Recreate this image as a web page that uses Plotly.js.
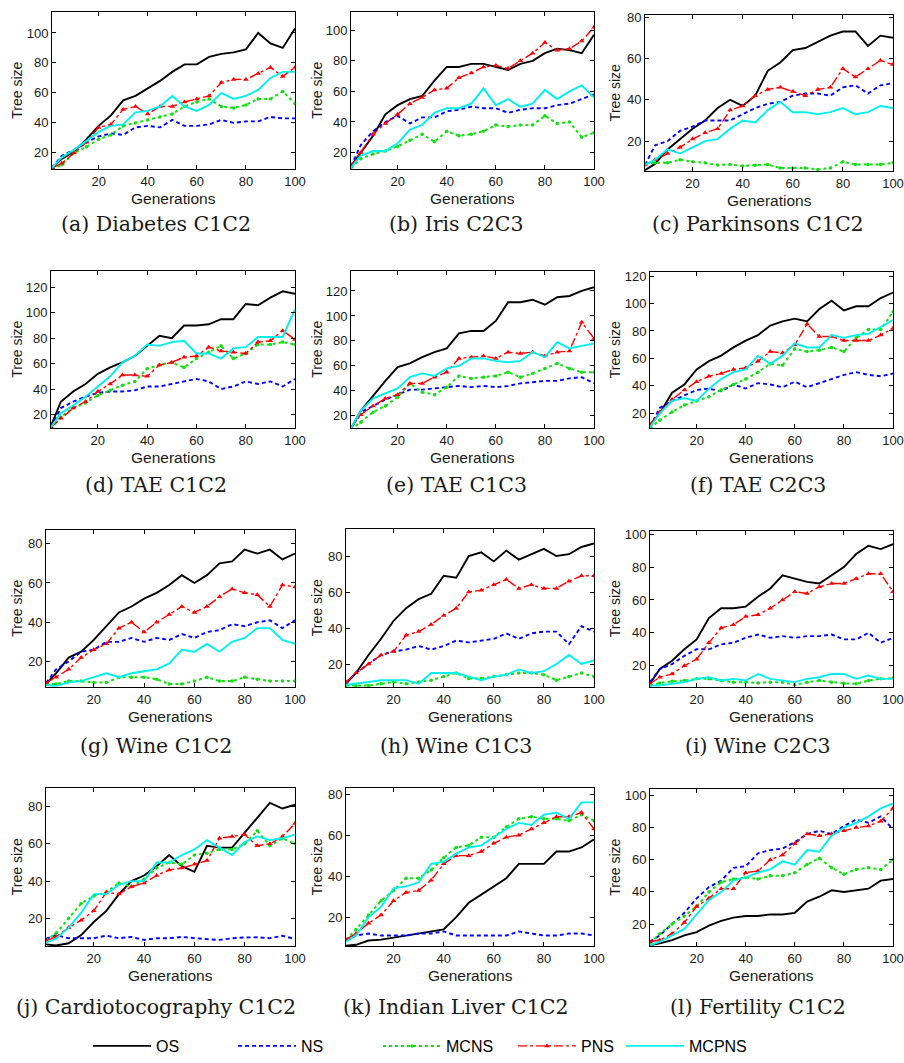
<!DOCTYPE html>
<html><head><meta charset="utf-8">
<script src="https://cdn.plot.ly/plotly-3.0.1.min.js"></script>
<style>html,body{margin:0;padding:0;background:#fff}#chart{width:904px;height:1063px}</style>
</head><body><div id="chart"></div>
<script>
// ---------------- DATA ----------------
const GEN = [1,5,10,15,20,25,30,35,40,45,50,55,60,65,70,75,80,85,90,95,100];
const SERIES = ['OS','NS','MCNS','PNS','MCPNS'];
const CAPTIONS = ['(a) Diabetes C1C2','(b) Iris C2C3','(c) Parkinsons C1C2',
  '(d) TAE C1C2','(e) TAE C1C3','(f) TAE C2C3',
  '(g) Wine C1C2','(h) Wine C1C3','(i) Wine C2C3',
  '(j) Cardiotocography C1C2','(k) Indian Liver C1C2','(l) Fertility C1C2'];
const X_TITLE = 'Generations';
const Y_TITLE = 'Tree size';
const X_TICKS = [20,40,60,80,100];
const Y_TICKS_A = [20,40,60,80,100];
const Y_TICKS_B = [20,40,60,80];
const Y_TICKS_C = [20,40,60,80,100,120];

// (a) Diabetes C1C2
const diabetes_OS    = [10,16,21,29,38,45,55,58,63,68,74,79,79,84,86,87,89,100,93,90,103];
const diabetes_NS    = [10,18,22,27,31,33,32,37,38,37,42,38,38,39,42,40,41,41,44,43,43];
const diabetes_MCNS  = [9,12,20,24,29,32,38,40,42,44,46,51,54,56,51,50,52,56,56,61,53];
const diabetes_PNS   = [10,13,20,27,37,39,49,51,46,51,51,54,56,58,67,69,69,73,77,71,77];
const diabetes_MCPNS = [10,17,22,28,34,38,39,47,48,51,58,51,48,52,60,56,58,62,70,74,74];
// (b) Iris C2C3
const iris_OS    = [11,20,31,45,51,55,57,67,76,76,78,78,76,74,78,80,85,88,87,85,97];
const iris_NS    = [11,25,34,40,44,39,43,43,47,48,50,49,49,46,48,49,49,51,52,55,58];
const iris_MCNS  = [10,16,19,21,24,28,32,27,34,31,32,34,38,37,38,38,44,39,40,30,33];
const iris_PNS   = [11,20,32,39,45,52,56,61,62,69,72,76,77,75,80,85,92,87,88,93,102];
const iris_MCPNS = [10,18,21,21,26,35,38,46,49,49,52,62,51,55,50,52,61,55,60,64,56];
// (c) Parkinsons C1C2
const park_OS    = [6,9,16,21,26,30,36,40,37,42,54,58,64,65,68,71,73,73,66,71,70];
const park_NS    = [8.5,18,20,25,27,30,30,30,33,36,38,39,42,43,43,42,46,47,43,47,48];
const park_MCNS  = [9,9.5,9.5,11,10,9.5,8.5,8.7,8,8.4,8.7,7,7,7,6.3,7,10,8.7,8.7,8.7,9.5];
const park_PNS   = [8.5,11,14,17,21,24,26,35,37,42,45,46,44,42,45,46,55,51,55,59,57];
const park_MCPNS = [8.5,11,16,14,17,20,21,26,30,29,35,39,34,34,33,34,36,33,34,37,36];
// (d) TAE C1C2
const taeA_OS    = [11,30,38,44,52,57,61,66,74,82,80,90,90,91,95,95,107,106,112,117,115];
const taeA_NS    = [10,25,30,34,37,38,38,39,42,42,44,46,48,46,40,42,46,44,46,42,48];
const taeA_MCNS  = [9,18,25,29,35,39,43,46,56,59,61,57,64,69,74,64,68,75,75,77,75];
const taeA_PNS   = [10,17,25,30,38,44,51,51,50,59,61,65,66,73,70,69,68,77,78,86,79];
const taeA_MCPNS = [10,21,27,34,42,50,61,66,75,74,77,78,68,68,64,72,73,81,81,81,103];
// (e) TAE C1C3
const taeB_OS    = [10,24,36,48,59,62,67,71,74,86,88,88,96,111,111,113,109,115,116,120,123];
const taeB_NS    = [10,23,28,33,37,41,41,42,43,44,43,44,43,44,46,47,48,48,50,51,46];
const taeB_MCNS  = [9,15,23,28,35,46,39,37,43,52,50,51,52,55,51,54,58,62,58,55,55];
const taeB_PNS   = [10,21,28,34,37,46,46,51,55,66,67,68,66,71,70,71,68,71,72,95,82];
const taeB_MCPNS = [10,24,34,38,42,51,54,52,58,60,66,66,64,63,64,71,67,79,74,76,78];
// (f) TAE C2C3
const taeC_OS    = [11,20,35,41,52,58,62,68,73,77,84,87,89,87,96,102,95,98,98,104,108];
const taeC_NS    = [10,24,29,33,37,38,36,41,38,42,41,39,43,39,42,45,48,50,48,47,49];
const taeC_MCNS  = [9,15,21,26,29,32,37,41,45,50,56,55,67,65,66,68,65,75,81,81,94];
const taeC_PNS   = [12,21,30,37,43,47,49,52,53,58,65,64,70,85,76,76,73,73,73,77,82];
const taeC_MCPNS = [10,20,29,31,29,38,45,50,52,62,56,62,71,68,68,77,75,77,78,83,88];
// (g) Wine C1C2
const wineA_OS    = [8.5,14,22,25,31,38,45,48,52,55,59,64,60,64,70,71,77,75,77,72,75];
const wineA_NS    = [9,16,20,25,26,30,30,32,30,32,31,34,32,35,36,39,38,40,41,37,41];
const wineA_MCNS  = [8.5,8.5,10,10,9.3,9.3,12,12,12,11,8.5,8.5,10,12,10,10,12,11,10,10,10];
const wineA_PNS   = [9,12,16,22,26,29,37,40,35,40,44,48,45,48,53,57,55,54,48,59,58];
const wineA_MCPNS = [8,7.6,9.3,10,12,14,12,14,15,16,19,26,25,29,25,30,32,37,37,31,29];
// (h) Wine C1C3
const wineB_OS    = [9,15,25,34,44,51,56,59,69,68,80,82,77,83,78,81,84,80,81,85,87];
const wineB_NS    = [9.5,15,20,25,27,28,30,28,30,33,32,33,34,37,34,37,38,38,31,41,38];
const wineB_MCNS  = [8,8,8,9,10,9,10,11,13,15,12,12,13,14,15,15,14,11,13,15,13];
const wineB_PNS   = [10,15,20,25,27,36,38,42,47,51,60,61,64,67,62,64,62,62,66,69,69];
const wineB_MCPNS = [8.5,9,10,11,11,11,9,15,15,15,13,11,13,14,17,15,16,20,25,20,22];
// (i) Wine C2C3
const wineC_OS    = [9,18,23,30,36,49,55,55,56,62,67,75,73,71,70,75,80,88,93,91,94];
const wineC_NS    = [10,18,21,26,30,30,33,34,37,39,37,38,37,38,38,39,36,36,40,34,37];
const wineC_MCNS  = [8,9.5,10.5,11,12,12,11,10,10,9.5,10,10,8.3,10,11,10,9.3,9,11,12,12.5];
const wineC_PNS   = [9,13,15,20,24,34,43,45,50,51,55,60,65,64,68,70,70,73,76,76,65];
const wineC_MCPNS = [8,8,9,10,12,13,11,12,11,15,12,11,10,12,13,15,15,12,14,12,12];
// (j) Cardiotocography C1C2
const cardio_OS    = [6,5.4,6.6,11,18,24,33,40,43,48,54,48,45,59,58,58,66,74,82,79,81];
const cardio_NS    = [9,11,9.3,9.3,9.3,10.7,9.3,10,8.4,9.3,9.3,10,9.3,8.8,8.4,9.3,9.7,9.8,9.3,10.6,8.9];
const cardio_MCNS  = [8,12,20,28,32,34,39,37,41,47,50,49,54,55,57,57,60,67,59,63,60];
const cardio_PNS   = [8,10,15,19,24,34,33,37,39,43,46,47,49,51,63,64,65,59,60,64,71];
const cardio_MCPNS = [7,9,15,23,33,33,38,40,40,50,50,54,57,62,58,54,61,64,62,63,65];
// (k) Indian Liver C1C2
const liver_OS    = [6,6.5,8.6,9,10,11,12,13,14,20,27,31,35,39,46,46,46,52,52,54,58];
const liver_NS    = [9,11,12,11,11,11,12,12,13,11,11,11,11,11,13,12,11,11,12,12,11];
const liver_MCNS  = [9,14,21,28,33,39,39,43,49,54,55,59,59,64,68,69,68,68,67,70,67];
const liver_PNS   = [9,12,17,21,28,32,33,38,46,50,50,52,56,59,60,63,66,69,69,71,63];
const liver_MCPNS = [8,11,20,25,34,35,37,46,47,51,54,55,59,63,66,65,70,71,68,76,76];
// (l) Fertility C1C2
const fert_OS    = [7,8,10,13,15,19,22,24,25,25,26,26,27,34,37,41,40,41,42,47,48];
const fert_NS    = [9,13,20,27,36,43,47,55,56,64,66,67,71,76,78,76,81,85,83,87,79];
const fert_MCNS  = [8,14,20,25,31,40,46,48,49,48,50,50,52,57,61,55,51,54,55,54,60];
const fert_PNS   = [9,10,14,21,31,36,42,42,52,53,60,63,70,76,75,76,78,80,81,84,92];
const fert_MCPNS = [7,9,13,17,26,35,40,47,49,52,54,59,57,66,65,75,80,83,87,92,95];

const PANEL_DATA = [
  [diabetes_OS,diabetes_NS,diabetes_MCNS,diabetes_PNS,diabetes_MCPNS],
  [iris_OS,iris_NS,iris_MCNS,iris_PNS,iris_MCPNS],
  [park_OS,park_NS,park_MCNS,park_PNS,park_MCPNS],
  [taeA_OS,taeA_NS,taeA_MCNS,taeA_PNS,taeA_MCPNS],
  [taeB_OS,taeB_NS,taeB_MCNS,taeB_PNS,taeB_MCPNS],
  [taeC_OS,taeC_NS,taeC_MCNS,taeC_PNS,taeC_MCPNS],
  [wineA_OS,wineA_NS,wineA_MCNS,wineA_PNS,wineA_MCPNS],
  [wineB_OS,wineB_NS,wineB_MCNS,wineB_PNS,wineB_MCPNS],
  [wineC_OS,wineC_NS,wineC_MCNS,wineC_PNS,wineC_MCPNS],
  [cardio_OS,cardio_NS,cardio_MCNS,cardio_PNS,cardio_MCPNS],
  [liver_OS,liver_NS,liver_MCNS,liver_PNS,liver_MCPNS],
  [fert_OS,fert_NS,fert_MCNS,fert_PNS,fert_MCPNS]
];
const Y_RANGES = [[9,114],[9,112],[5.4,81],[9,133],[10,136],[9,123],[6.8,87],[7,95],[6.8,102],[4.9,90],[5.7,83],[6.1,104]];
const Y_TICKVALS = [Y_TICKS_A,Y_TICKS_A,Y_TICKS_B,Y_TICKS_C,Y_TICKS_C,Y_TICKS_C,Y_TICKS_B,Y_TICKS_B,Y_TICKS_A,Y_TICKS_B,Y_TICKS_B,Y_TICKS_A];

// ---------------- LAYOUT / STYLE ----------------
const W = 904, H = 1063;
// plot frames in pixels: [left, right, top, bottom]
const BOXES = [
  [52,295,12,170],[351,594,12,170],[645,893,15,172],
  [51,295,272,430],[351,594,272,430],[650,893,273,430],
  [46,295,532,690],[346,594,531,690],[650,893,533,690],
  [46,295,791,950],[346,594,791,950],[650,893,792,950]
];
const CAPTION_X = [156,456,758];
const CAPTION_Y = [225,487,749,1011];
const YTITLE_X = [17,317,615];

const STYLES = {
  OS:    {mode:'lines', line:{color:'#000000', width:1.9}},
  NS:    {mode:'lines', line:{color:'#0000ff', width:1.9, dash:'4px,3px'}},
  MCNS:  {mode:'lines+markers', line:{color:'#11e011', width:2, dash:'dot'}, marker:{color:'#11e011', size:3.5, symbol:'circle'}},
  PNS:   {mode:'lines+markers', line:{color:'#ff0000', width:1.4, dash:'dashdot'}, marker:{color:'#ff0000', size:5, symbol:'triangle-up'}},
  MCPNS: {mode:'lines', line:{color:'#00f0f0', width:1.9}}
};
const LEGEND_X = [88,233,378,513,621];

const traces = [];
const FONT_SANS = 'Liberation Sans, Arial, sans-serif';
const layout = {
  width: W, height: H, margin:{l:0,r:0,t:0,b:0},
  paper_bgcolor:'#ffffff', plot_bgcolor:'#ffffff',
  font:{family:FONT_SANS, color:'#1a1a1a'},
  annotations: [], showlegend: true
};
const tickFont = {family:FONT_SANS, size:13, color:'#1a1a1a'};

PANEL_DATA.forEach((series, i) => {
  const k = i === 0 ? '' : String(i+1);
  const b = BOXES[i];
  layout['xaxis'+k] = {
    domain:[b[0]/W, b[1]/W], anchor:'y'+k, range:[1,100], tickvals:X_TICKS,
    ticks:'inside', ticklen:4, tickcolor:'#000', showline:true, mirror:'ticks',
    linecolor:'#000', linewidth:1, showgrid:false, zeroline:false, tickfont:tickFont
  };
  layout['yaxis'+k] = {
    domain:[1-b[3]/H, 1-b[2]/H], anchor:'x'+k, range:Y_RANGES[i], tickvals:Y_TICKVALS[i],
    ticks:'inside', ticklen:4, tickcolor:'#000', showline:true, mirror:'ticks',
    linecolor:'#000', linewidth:1, showgrid:false, zeroline:false, tickfont:tickFont
  };
  series.forEach((ys, s) => {
    const name = SERIES[s];
    const t = Object.assign({x:GEN, y:ys, name:name, xaxis:'x'+k, yaxis:'y'+k,
      showlegend: i===0, hoverinfo:'skip'}, JSON.parse(JSON.stringify(STYLES[name])));
    if (i === 0) t.legend = s === 0 ? 'legend' : 'legend'+(s+1);
    traces.push(t);
  });
  // x-axis title
  layout.annotations.push({
    text: X_TITLE, xref:'paper', yref:'paper', showarrow:false,
    x: (b[0]+b[1])/2/W, y: 1-(b[3]+19)/H, xanchor:'center', yanchor:'top',
    font:{family:FONT_SANS, size:15.5, color:'#1a1a1a'}
  });
  // y-axis title
  layout.annotations.push({
    text: Y_TITLE, xref:'paper', yref:'paper', showarrow:false, textangle:-90,
    x: YTITLE_X[i%3]/W, y: 1-(b[2]+b[3])/2/H, xanchor:'center', yanchor:'middle',
    font:{family:FONT_SANS, size:14, color:'#1a1a1a'}
  });
  // caption
  layout.annotations.push({
    text: CAPTIONS[i], xref:'paper', yref:'paper', showarrow:false,
    x: CAPTION_X[i%3]/W, y: 1-CAPTION_Y[Math.floor(i/3)]/H, xanchor:'center', yanchor:'middle',
    font:{family:'DejaVu Serif, serif', size:20.5, color:'#1a1a1a'}
  });
});

SERIES.forEach((s, j) => {
  const key = j === 0 ? 'legend' : 'legend'+(j+1);
  layout[key] = {x: LEGEND_X[j]/W, y: 1-1050/H, xanchor:'left', yanchor:'middle',
    orientation:'h', itemwidth:58, bgcolor:'rgba(0,0,0,0)', borderwidth:0,
    font:{family:FONT_SANS, size:16, color:'#000'}};
});

Plotly.newPlot('chart', traces, layout, {displayModeBar:false, staticPlot:true});
</script></body></html>
